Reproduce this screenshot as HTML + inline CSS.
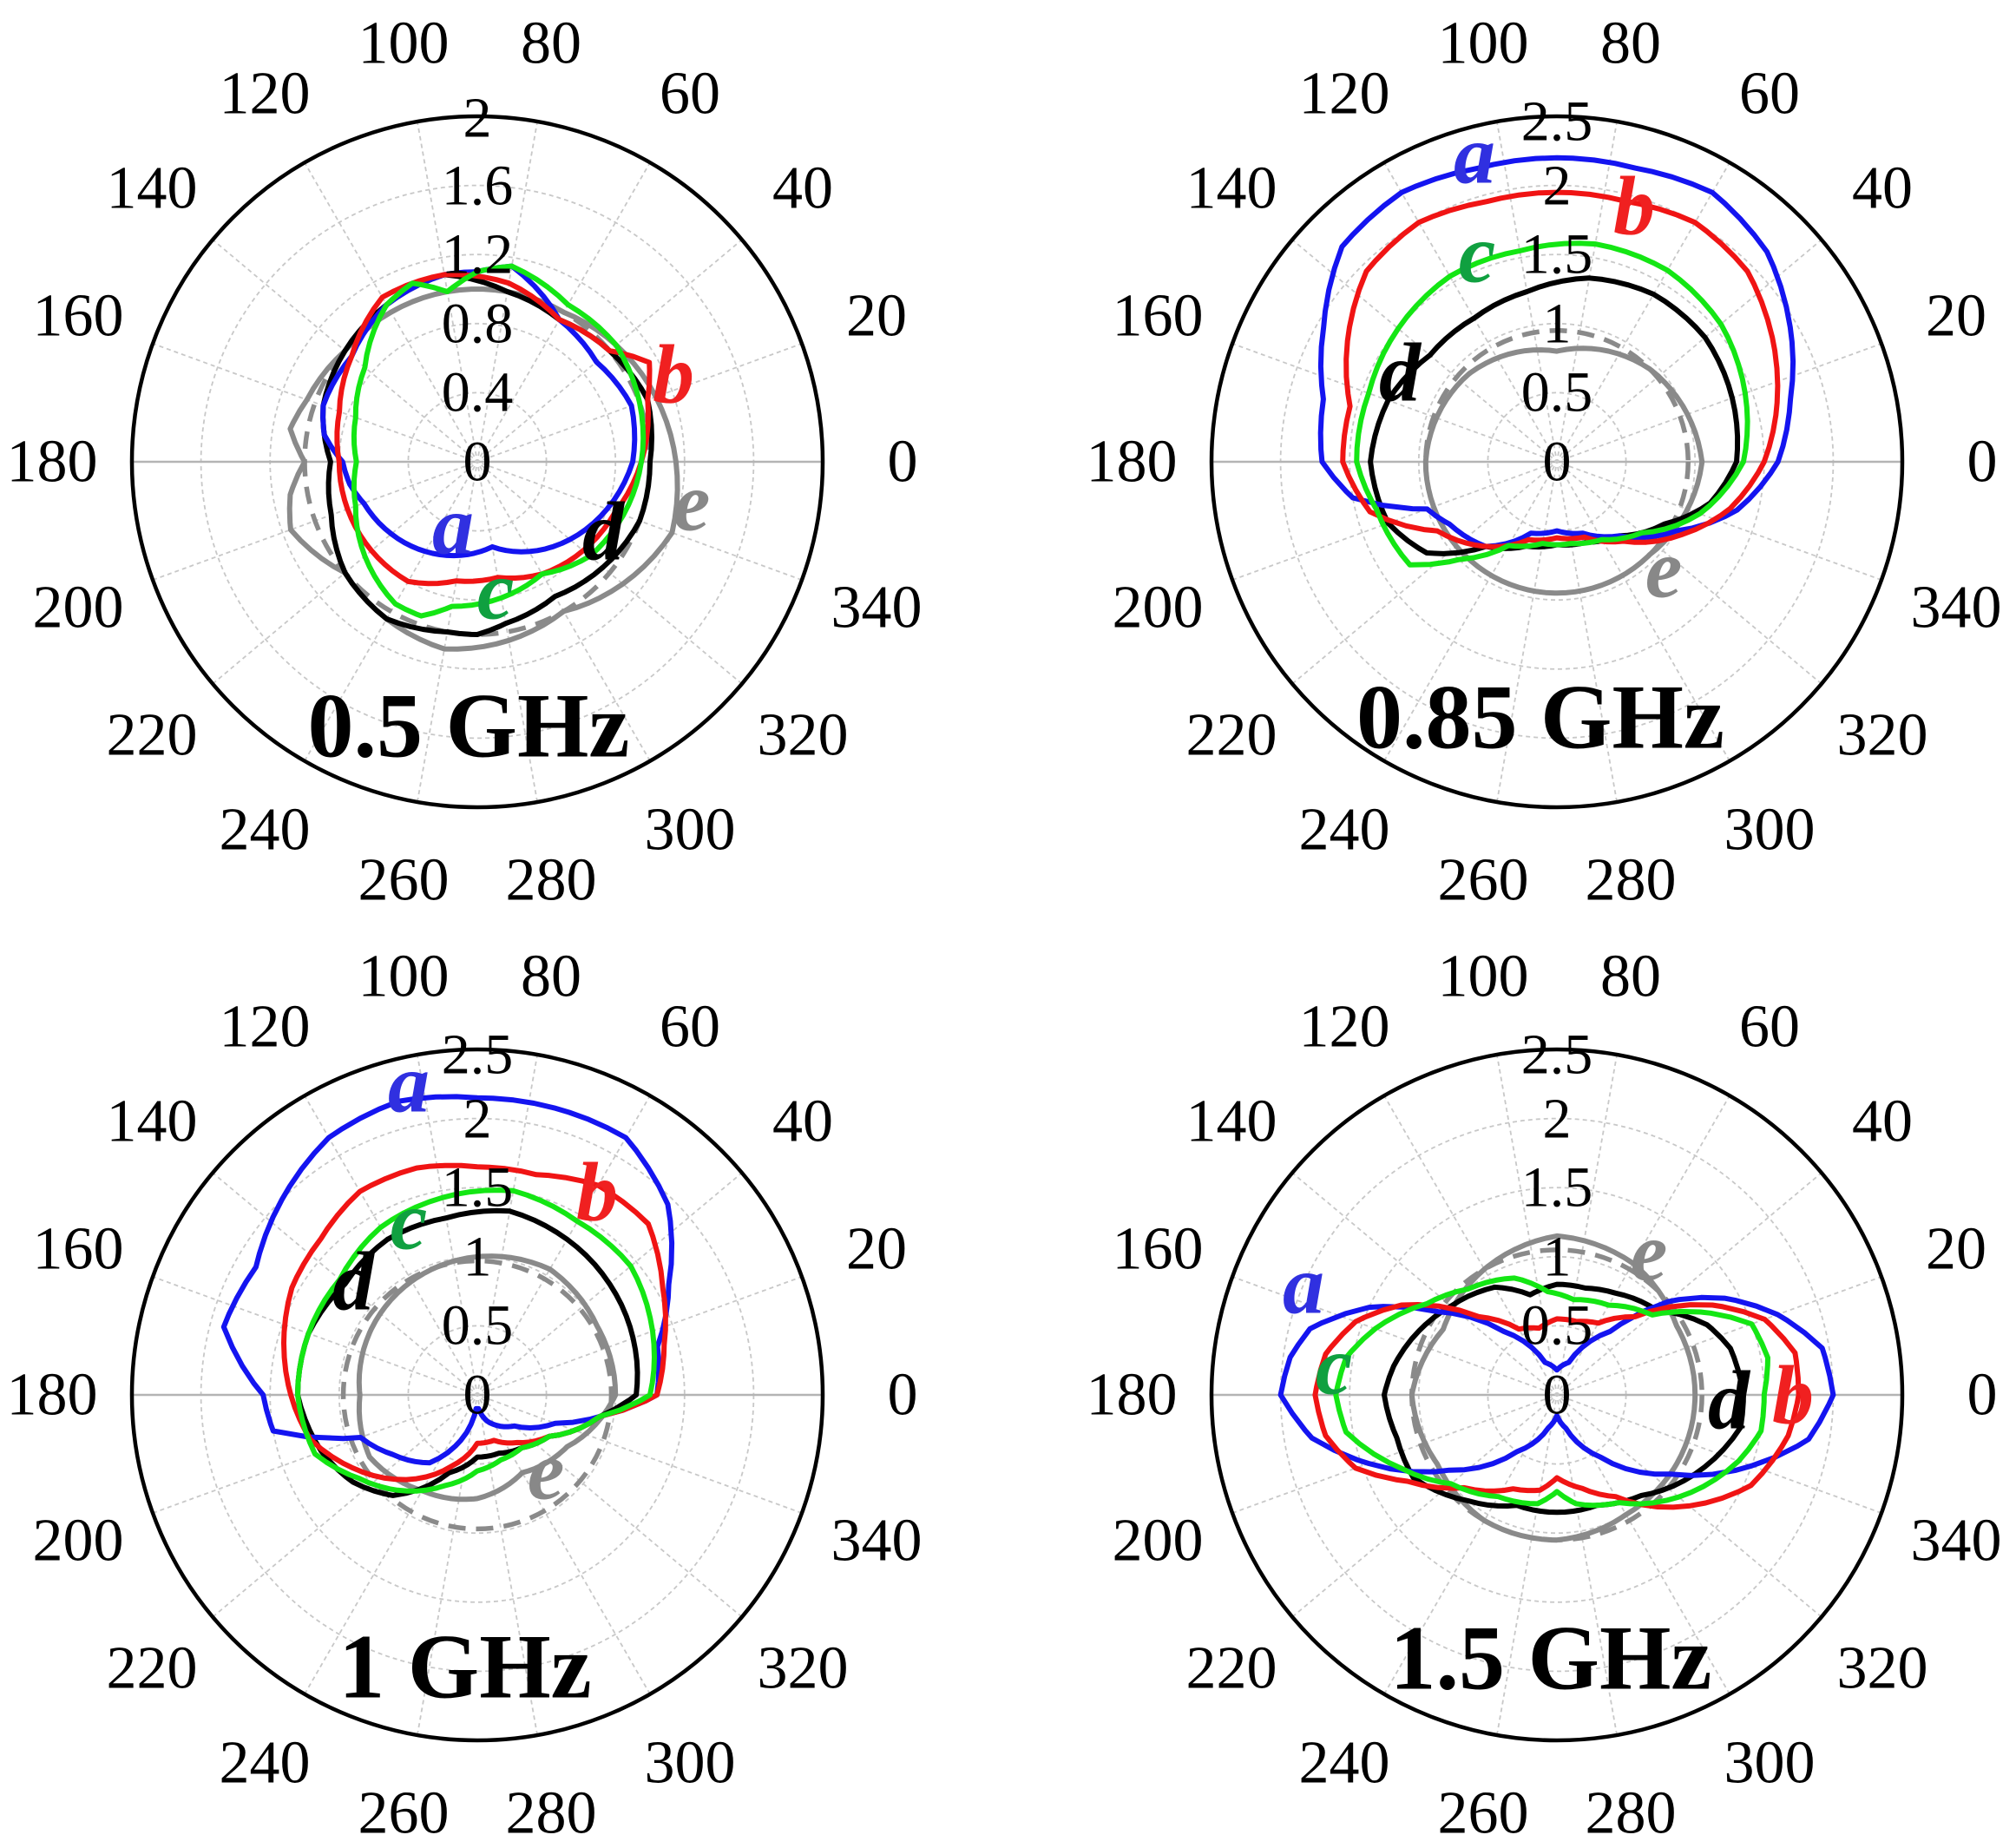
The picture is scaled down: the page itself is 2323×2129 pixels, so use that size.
<!DOCTYPE html>
<html><head><meta charset="utf-8"><style>
html,body{margin:0;padding:0;background:#fff}
svg{display:block}
text{font-family:"Liberation Serif",serif}
.t{font-size:70px;text-anchor:middle;dominant-baseline:central;fill:#000}
.r{font-size:66px;text-anchor:middle;dominant-baseline:central;fill:#000}
.h{font-size:106px;font-weight:bold;text-anchor:middle;dominant-baseline:central;fill:#000}
.l{font-size:96px;font-style:italic;font-weight:bold;text-anchor:middle;dominant-baseline:central}
</style></head><body>
<svg id="s" width="2323" height="2129" viewBox="0 0 2323 2129" xmlns="http://www.w3.org/2000/svg">
<g id="grids"></g>
<g id="curves"></g>
<g transform="translate(550,532)">
<text class="t" x="490" y="0">0</text><text class="t" x="460" y="-168">20</text><text class="t" x="375" y="-315">40</text><text class="t" x="245" y="-424">60</text><text class="t" x="85" y="-482">80</text><text class="t" x="-85" y="-482">100</text><text class="t" x="-245" y="-424">120</text><text class="t" x="-375" y="-315">140</text><text class="t" x="-460" y="-168">160</text><text class="t" x="-490" y="0">180</text><text class="t" x="-460" y="168">200</text><text class="t" x="-375" y="315">220</text><text class="t" x="-245" y="424">240</text><text class="t" x="-85" y="482">260</text><text class="t" x="85" y="482">280</text><text class="t" x="245" y="424">300</text><text class="t" x="375" y="315">320</text><text class="t" x="460" y="168">340</text>
<text class="r" x="0" y="0">0</text><text class="r" x="0" y="-80">0.4</text><text class="r" x="0" y="-159">0.8</text><text class="r" x="0" y="-239">1.2</text><text class="r" x="0" y="-318">1.6</text><text class="r" x="0" y="-396">2</text>
</g>
<g transform="translate(1794,532)">
<text class="t" x="490" y="0">0</text><text class="t" x="460" y="-168">20</text><text class="t" x="375" y="-315">40</text><text class="t" x="245" y="-424">60</text><text class="t" x="85" y="-482">80</text><text class="t" x="-85" y="-482">100</text><text class="t" x="-245" y="-424">120</text><text class="t" x="-375" y="-315">140</text><text class="t" x="-460" y="-168">160</text><text class="t" x="-490" y="0">180</text><text class="t" x="-460" y="168">200</text><text class="t" x="-375" y="315">220</text><text class="t" x="-245" y="424">240</text><text class="t" x="-85" y="482">260</text><text class="t" x="85" y="482">280</text><text class="t" x="245" y="424">300</text><text class="t" x="375" y="315">320</text><text class="t" x="460" y="168">340</text>
<text class="r" x="0" y="0">0</text><text class="r" x="0" y="-80">0.5</text><text class="r" x="0" y="-159">1</text><text class="r" x="0" y="-239">1.5</text><text class="r" x="0" y="-318">2</text><text class="r" x="0" y="-392">2.5</text>
</g>
<g transform="translate(550,1607)">
<text class="t" x="490" y="0">0</text><text class="t" x="460" y="-168">20</text><text class="t" x="375" y="-315">40</text><text class="t" x="245" y="-424">60</text><text class="t" x="85" y="-482">80</text><text class="t" x="-85" y="-482">100</text><text class="t" x="-245" y="-424">120</text><text class="t" x="-375" y="-315">140</text><text class="t" x="-460" y="-168">160</text><text class="t" x="-490" y="0">180</text><text class="t" x="-460" y="168">200</text><text class="t" x="-375" y="315">220</text><text class="t" x="-245" y="424">240</text><text class="t" x="-85" y="482">260</text><text class="t" x="85" y="482">280</text><text class="t" x="245" y="424">300</text><text class="t" x="375" y="315">320</text><text class="t" x="460" y="168">340</text>
<text class="r" x="0" y="0">0</text><text class="r" x="0" y="-80">0.5</text><text class="r" x="0" y="-159">1</text><text class="r" x="0" y="-239">1.5</text><text class="r" x="0" y="-318">2</text><text class="r" x="0" y="-392">2.5</text>
</g>
<g transform="translate(1794,1607)">
<text class="t" x="490" y="0">0</text><text class="t" x="460" y="-168">20</text><text class="t" x="375" y="-315">40</text><text class="t" x="245" y="-424">60</text><text class="t" x="85" y="-482">80</text><text class="t" x="-85" y="-482">100</text><text class="t" x="-245" y="-424">120</text><text class="t" x="-375" y="-315">140</text><text class="t" x="-460" y="-168">160</text><text class="t" x="-490" y="0">180</text><text class="t" x="-460" y="168">200</text><text class="t" x="-375" y="315">220</text><text class="t" x="-245" y="424">240</text><text class="t" x="-85" y="482">260</text><text class="t" x="85" y="482">280</text><text class="t" x="245" y="424">300</text><text class="t" x="375" y="315">320</text><text class="t" x="460" y="168">340</text>
<text class="r" x="0" y="0">0</text><text class="r" x="0" y="-80">0.5</text><text class="r" x="0" y="-159">1</text><text class="r" x="0" y="-239">1.5</text><text class="r" x="0" y="-318">2</text><text class="r" x="0" y="-392">2.5</text>
</g>
<text class="h" x="540" y="836">0.5 GHz</text>
<text class="h" x="1775" y="826">0.85 GHz</text>
<text class="h" x="536" y="1920">1 GHz</text>
<text class="h" x="1787" y="1910">1.5 GHz</text>
<text class="l" x="522" y="605" fill="#3030e0">a</text>
<text class="l" x="776" y="431" fill="#f02020">b</text>
<text class="l" x="571" y="680" fill="#10a040">c</text>
<text class="l" x="695" y="612" fill="#000">d</text>
<text class="l" x="797" y="578" fill="#888">e</text>
<text class="l" x="1699" y="178" fill="#3030e0">a</text>
<text class="l" x="1883" y="237" fill="#f02020">b</text>
<text class="l" x="1702" y="292" fill="#10a040">c</text>
<text class="l" x="1613" y="429" fill="#000">d</text>
<text class="l" x="1917" y="655" fill="#888">e</text>
<text class="l" x="471" y="1248" fill="#3030e0">a</text>
<text class="l" x="688" y="1373" fill="#f02020">b</text>
<text class="l" x="471" y="1406" fill="#10a040">c</text>
<text class="l" x="407" y="1476" fill="#000">d</text>
<text class="l" x="629" y="1694" fill="#888">e</text>
<text class="l" x="1502" y="1480" fill="#3030e0">a</text>
<text class="l" x="2066" y="1607" fill="#f02020">b</text>
<text class="l" x="1537" y="1573" fill="#10a040">c</text>
<text class="l" x="1992" y="1613" fill="#000">d</text>
<text class="l" x="1900" y="1442" fill="#888">e</text>
</svg>
<script>
var NS="http://www.w3.org/2000/svg";
var R=398;
var panels=[
 {cx:550,cy:532,max:2,ticks:[0.4,0.8,1.2,1.6],series:{
  e:[[0,1.15],[20,1.1],[40,1.05],[60,1.0],[80,1.0],[100,1.0],[120,1.0],[140,1.0],[160,1.05],[170,1.1],[180,1.0],[190,1.1],[200,1.15],[220,1.0],[240,1.05],[260,1.1],[280,1.05],[300,1.0],[320,1.1],[340,1.2]],
  d:[[0,1.0],[20,1.05],[40,1.0],[60,0.95],[80,1.0],[100,1.1],[120,1.05],[140,1.0],[160,0.95],[180,0.85],[200,0.9],[220,1.0],[240,1.05],[260,1.0],[270,1.0],[280,0.95],[300,0.9],[320,0.95],[340,1.0]],
  a:[[0,0.9],[20,0.95],[40,0.9],[60,0.95],[80,1.15],[90,1.1],[100,1.1],[120,1.05],[140,0.95],[160,0.95],[170,0.9],[180,0.78],[190,0.75],[200,0.7],[220,0.65],[240,0.6],[260,0.55],[280,0.5],[300,0.6],[320,0.7],[340,0.8]],
  b:[[0,0.95],[20,1.05],[30,1.15],[40,1.0],[60,0.95],[80,1.05],[100,1.1],[120,1.1],[140,0.95],[160,0.85],[180,0.8],[200,0.8],[220,0.8],[240,0.8],[260,0.7],[280,0.68],[300,0.75],[320,0.8],[340,0.85]],
  c:[[0,0.95],[20,1.0],[40,1.05],[60,1.05],[80,1.15],[90,1.1],[100,1.0],[110,1.1],[120,1.05],[140,0.85],[160,0.75],[180,0.7],[200,0.75],[220,0.85],[240,0.95],[250,0.95],[260,0.85],[280,0.8],[300,0.75],[320,0.85],[340,0.9]]
 },dash:1.0},
 {cx:1794,cy:532,max:2.5,ticks:[0.5,1,1.5,2],series:{
  e:[[0,1.05],[45,0.95],[90,0.8],[135,0.9],[180,0.95],[225,0.95],[270,0.95],[315,0.95]],
  d:[[0,1.3],[20,1.35],[40,1.4],[60,1.4],[80,1.35],[100,1.25],[120,1.2],[140,1.2],[160,1.3],[180,1.35],[200,1.3],[215,1.15],[230,0.8],[250,0.65],[270,0.6],[290,0.62],[310,0.7],[330,0.9],[345,1.15]],
  a:[[0,1.6],[15,1.75],[30,1.95],[45,2.15],[60,2.25],[75,2.2],[90,2.2],[105,2.2],[120,2.25],[135,2.2],[150,1.95],[165,1.75],[180,1.7],[190,1.5],[200,1.0],[210,0.9],[230,0.8],[250,0.55],[270,0.5],[290,0.55],[310,0.7],[330,1.0],[345,1.35]],
  b:[[0,1.5],[15,1.65],[30,1.8],[45,1.95],[60,2.0],[75,1.95],[90,1.95],[105,1.95],[120,2.0],[135,1.95],[150,1.75],[165,1.55],[180,1.55],[195,1.4],[210,1.0],[225,0.85],[250,0.6],[270,0.55],[290,0.58],[310,0.75],[330,1.05],[345,1.3]],
  c:[[0,1.35],[20,1.45],[40,1.55],[60,1.6],[80,1.6],[100,1.55],[120,1.55],[140,1.5],[160,1.45],[180,1.45],[195,1.35],[215,1.3],[225,1.0],[240,0.7],[260,0.6],[280,0.6],[300,0.65],[320,0.8],[340,1.1]]
 },dash:0.95},
 {cx:550,cy:1607,max:2.5,ticks:[0.5,1,1.5,2],series:{
  e:[[0,1.0],[30,1.0],[60,1.05],[90,1.0],[120,0.95],[150,0.9],[180,0.85],[210,0.9],[240,0.8],[270,0.75],[300,0.65],[330,0.75]],
  d:[[0,1.15],[20,1.2],[40,1.25],[60,1.3],[80,1.35],[100,1.3],[120,1.3],[140,1.25],[160,1.3],[180,1.3],[200,1.2],[215,1.1],[230,0.95],[250,0.6],[270,0.45],[290,0.45],[310,0.5],[330,0.6],[350,0.9]],
  a:[[0,1.3],[15,1.35],[30,1.6],[45,1.95],[60,2.15],[75,2.15],[90,2.15],[105,2.2],[120,2.15],[135,2.0],[150,1.85],[165,1.9],[180,1.55],[190,1.5],[200,0.9],[215,0.75],[235,0.6],[250,0.35],[265,0.1],[275,0.1],[290,0.2],[320,0.35],[340,0.6],[350,0.9]],
  b:[[0,1.3],[15,1.4],[30,1.55],[45,1.75],[60,1.75],[75,1.65],[90,1.65],[105,1.7],[120,1.7],[135,1.6],[150,1.55],[165,1.45],[180,1.35],[195,1.25],[210,1.05],[230,0.8],[250,0.55],[270,0.35],[290,0.35],[310,0.45],[330,0.6],[350,0.9]],
  c:[[0,1.25],[20,1.35],[40,1.45],[60,1.45],[80,1.5],[100,1.45],[120,1.4],[140,1.3],[160,1.3],[180,1.3],[200,1.25],[215,1.05],[230,0.9],[250,0.7],[270,0.55],[290,0.5],[310,0.5],[330,0.6],[350,0.9]]
 },dash:0.97},
 {cx:1794,cy:1607,max:2.5,ticks:[0.5,1,1.5,2],series:{
  e:[[0,1.0],[30,1.0],[60,1.1],[90,1.15],[120,1.05],[150,0.95],[180,1.05],[210,1.0],[240,1.05],[270,1.05],[300,1.0],[330,1.0]],
  d:[[0,1.35],[15,1.3],[25,1.2],[40,0.95],[60,0.85],[75,0.8],[90,0.8],[105,0.75],[120,0.9],[140,1.0],[155,1.1],[170,1.2],[180,1.25],[195,1.2],[210,1.2],[230,1.0],[250,0.85],[270,0.85],[290,0.85],[310,0.95],[330,1.15],[350,1.35]],
  a:[[0,2.0],[10,1.95],[20,1.7],[30,1.4],[40,1.05],[50,0.6],[70,0.25],[90,0.18],[110,0.25],[130,0.6],[145,1.05],[155,1.5],[165,1.85],[172,1.95],[180,2.0],[190,1.8],[200,1.45],[215,0.95],[235,0.5],[255,0.25],[270,0.15],[285,0.25],[305,0.55],[325,1.0],[340,1.5],[350,1.85]],
  b:[[0,1.75],[10,1.75],[20,1.6],[30,1.3],[45,0.8],[60,0.6],[75,0.55],[90,0.55],[105,0.5],[120,0.55],[135,0.8],[150,1.3],[160,1.55],[170,1.7],[180,1.75],[190,1.7],[200,1.55],[210,1.25],[225,0.95],[245,0.75],[260,0.7],[270,0.6],[285,0.7],[300,0.85],[320,1.25],[335,1.55],[350,1.7]],
  c:[[0,1.5],[10,1.55],[20,1.5],[30,1.2],[40,0.9],[60,0.75],[80,0.7],[95,0.75],[110,0.9],[130,1.0],[145,1.15],[160,1.4],[170,1.55],[180,1.6],[190,1.55],[205,1.25],[220,1.0],[240,0.85],[260,0.8],[270,0.7],[280,0.8],[300,0.9],[320,1.15],[340,1.4],[350,1.5]]
 },dash:1.05}
];
var cols={e:"#8a8a8a",d:"#000000",a:"#1414f0",b:"#f01414",c:"#14e614"};
var G=document.getElementById("grids"),C=document.getElementById("curves");
function el(n,a,p){var e=document.createElementNS(NS,n);for(var k in a)e.setAttribute(k,a[k]);p.appendChild(e);return e;}
panels.forEach(function(P){
 var s=R/P.max;
 P.ticks.forEach(function(t){el("circle",{cx:P.cx,cy:P.cy,r:t*s,fill:"none",stroke:"#c8c8c8","stroke-width":1.8,"stroke-dasharray":"5,4"},G);});
 for(var a=0;a<180;a+=20){var rr=a*Math.PI/180;var dx=R*Math.cos(rr),dy=R*Math.sin(rr);
  el("line",{x1:P.cx-dx,y1:P.cy+dy,x2:P.cx+dx,y2:P.cy-dy,stroke:a==0?"#b4b4b4":"#c8c8c8","stroke-width":a==0?2.4:1.8,"stroke-dasharray":a==0?"none":"5,4"},G);}
 el("circle",{cx:P.cx,cy:P.cy,r:R,fill:"none",stroke:"#000","stroke-width":4.5},G);
 el("circle",{cx:P.cx,cy:P.cy,r:P.dash*s,fill:"none",stroke:"#8a8a8a","stroke-width":5.5,"stroke-dasharray":"20,12"},C);
 ["e","d","a","b","c"].forEach(function(k){
  var pts=P.series[k],d="";
  for(var i=0;i<pts.length;i++){
   var p0=pts[i],p1=pts[(i+1)%pts.length];var a0=p0[0],a1=p1[0];if(a1<=a0)a1+=360;
   for(var a=a0;a<a1;a+=4){var f=(a-a0)/(a1-a0);var r=(p0[1]+(p1[1]-p0[1])*f)*s;var th=a*Math.PI/180;
    d+=(d?"L":"M")+(P.cx+r*Math.cos(th)).toFixed(1)+","+(P.cy-r*Math.sin(th)).toFixed(1);}
  }
  d+="Z";
  el("path",{d:d,fill:"none",stroke:cols[k],"stroke-width":6,"stroke-linejoin":"round"},C);
 });
});
</script>
</body></html>
